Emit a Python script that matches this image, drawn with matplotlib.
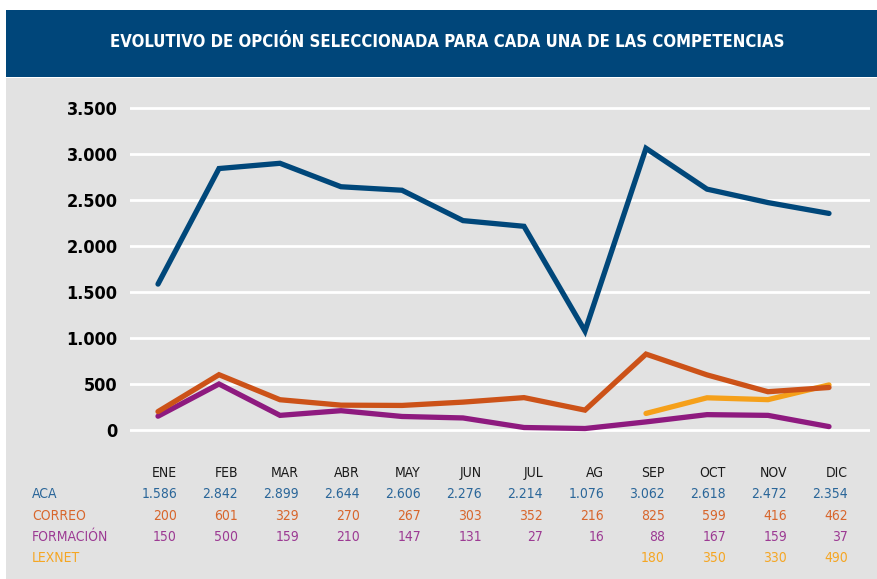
import matplotlib
matplotlib.use("Agg")
import matplotlib.pyplot as plt
from matplotlib.patches import Rectangle
from matplotlib.transforms import blended_transform_factory

months = ["ENE", "FEB", "MAR", "ABR", "MAY", "JUN", "JUL", "AG", "SEP", "OCT", "NOV", "DIC"]
aca = [1586, 2842, 2899, 2644, 2606, 2276, 2214, 1076, 3062, 2618, 2472, 2354]
correo = [200, 601, 329, 270, 267, 303, 352, 216, 825, 599, 416, 462]
formacion = [150, 500, 159, 210, 147, 131, 27, 16, 88, 167, 159, 37]
lexnet = [None, None, None, None, None, None, None, None, 180, 350, 330, 490]
yticks = [0, 500, 1000, 1500, 2000, 2500, 3000, 3500]
ytick_labels = ["0", "500", "1.000", "1.500", "2.000", "2.500", "3.000", "3.500"]

W, H = 877, 579

fig = plt.figure(figsize=(W / 100, H / 100), dpi=100)
fig.patch.set_facecolor("white")

# background panels
fig.add_artist(Rectangle((6 / W, 0), 1 - 6 / W, (H - 78) / H, transform=fig.transFigure,
                         facecolor="#e2e2e2", edgecolor="none", zorder=0))
fig.add_artist(Rectangle((6 / W, (H - 77) / H), 1 - 6 / W, 67 / H, transform=fig.transFigure,
                         facecolor="#00467a", edgecolor="none", zorder=0))
fig.text(447 / W, (H - 42) / H, "EVOLUTIVO DE OPCIÓN SELECCIONADA PARA CADA UNA DE LAS COMPETENCIAS",
         color="white", fontsize=12, fontweight="bold", fontstretch="condensed",
         ha="center", va="center")

# axes: month i at x = 158 + 61*i px
px = 61
ax_l, ax_r = 130 / W, 870 / W
ax_b, ax_t = (H - 439.2) / H, (H - 98.8) / H
ax = fig.add_axes([ax_l, ax_b, ax_r - ax_l, ax_t - ax_b])
ax.set_facecolor("none")
ax.set_xlim(-(158 - 130) / px, (870 - 158) / px)
ax.set_ylim(-100, 3600)
for s in ax.spines.values():
    s.set_visible(False)
ax.set_xticks([])
ax.set_yticks(yticks)
ax.set_yticklabels(ytick_labels, fontsize=13, fontweight="bold", fontstretch="condensed")
ax.tick_params(axis="y", length=0, pad=9)
ax.grid(axis="y", color="white", linewidth=2)
ax.set_axisbelow(True)

x = list(range(len(months)))
series = [
    ("ACA", aca, "#00477a", "#2a6699"),
    ("CORREO", correo, "#cc5218", "#d8662c"),
    ("FORMACIÓN", formacion, "#8e1a7f", "#9c3a93"),
    ("LEXNET", lexnet, "#f5a01a", "#f5a623"),
]
for name, vals, lc, tc in series[::-1]:
    xs = [i for i, v in zip(x, vals) if v is not None]
    ys = [v for v in vals if v is not None]
    ax.plot(xs, ys, color=lc, linewidth=3.8, solid_capstyle="round", solid_joinstyle="miter")

# data table under the chart
tr = blended_transform_factory(ax.transData, fig.transFigure)
off = 19 / px
for i, m in enumerate(months):
    ax.text(i + off, (H - 473) / H, m, transform=tr, ha="right", va="center",
            fontsize=10, fontstretch="condensed", color="#1a1a1a", clip_on=False)
row_y = [494, 516, 537, 558]
for (name, vals, lc, tc), ry in zip(series, row_y):
    fig.text(32 / W, (H - ry) / H, name, ha="left", va="center", fontsize=10,
             fontstretch="condensed", color=tc)
    for i, v in enumerate(vals):
        if v is None:
            continue
        label = f"{v:,}".replace(",", ".")
        ax.text(i + off, (H - ry) / H, label, transform=tr, ha="right", va="center",
                fontsize=10, fontstretch="condensed", color=tc, clip_on=False)

fig.savefig("out.png", dpi=100)
